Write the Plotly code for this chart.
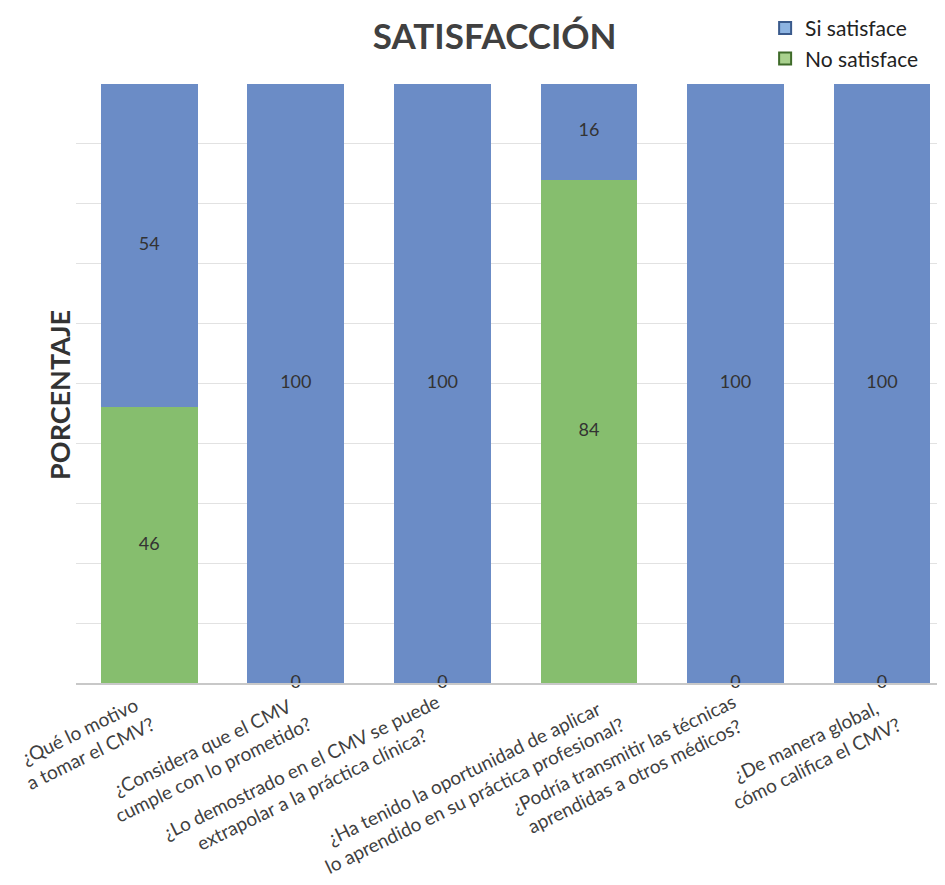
import plotly.graph_objects as go

categories = [
    "¿Qué lo motivo<br>a tomar el CMV?",
    "¿Considera que el CMV<br>cumple con lo prometido?",
    "¿Lo demostrado en el CMV se puede<br>extrapolar a la práctica clínica?",
    "¿Ha tenido la oportunidad de aplicar<br>lo aprendido en su práctica profesional?",
    "¿Podría transmitir las técnicas<br>aprendidas a otros médicos?",
    "¿De manera global,<br>cómo califica el CMV?",
]
no_satisface = [46, 0, 0, 84, 0, 0]
si_satisface = [54, 100, 100, 16, 100, 100]

BLUE = "#6B8CC6"
GREEN = "#86BE6E"
FONT = "Lato"
TXT = "#333333"

# horizontal nudge of each rotated category label (layout only)
label_dx = [11, 22, 14, 42, 17, 25]

x = list(range(len(categories)))

fig = go.Figure()
fig.add_trace(go.Bar(x=x, y=no_satisface, marker=dict(color=GREEN, line=dict(width=0)),
                     showlegend=False, hoverinfo="skip"))
fig.add_trace(go.Bar(x=x, y=si_satisface, marker=dict(color=BLUE, line=dict(width=0)),
                     showlegend=False, hoverinfo="skip"))

# data labels centred in each segment (Excel-style, zeros sit on the axis)
fig.add_trace(go.Scatter(x=x, y=[v / 2 for v in no_satisface], mode="text",
                         text=[str(v) for v in no_satisface], textposition="middle center",
                         textfont=dict(family=FONT, size=18, color=TXT),
                         showlegend=False, cliponaxis=False, hoverinfo="skip"))
fig.add_trace(go.Scatter(x=x, y=[n + s / 2 for n, s in zip(no_satisface, si_satisface)], mode="text",
                         text=[str(v) for v in si_satisface], textposition="middle center",
                         textfont=dict(family=FONT, size=18, color=TXT),
                         showlegend=False, cliponaxis=False, hoverinfo="skip"))

# legend entries
fig.add_trace(go.Scatter(x=[None], y=[None], mode="markers", name="Si satisface",
                         marker=dict(symbol="square", size=20, color="#8DB4E2",
                                     line=dict(color="#3A5A8C", width=1.5))))
fig.add_trace(go.Scatter(x=[None], y=[None], mode="markers", name="No satisface",
                         marker=dict(symbol="square", size=20, color="#A9D18E",
                                     line=dict(color="#3F6B2A", width=1.5))))

# rotated, centre-aligned category labels
annotations = []
for i, lab in enumerate(categories):
    annotations.append(dict(
        x=i, y=0, xref="x", yref="y", text=lab, showarrow=False,
        textangle=-26, align="center", xanchor="right", yanchor="top",
        xshift=label_dx[i], yshift=-4,
        font=dict(family=FONT, size=19, color="#404040"),
    ))
# y-axis title (sits slightly below the middle of the plot, as in the reference)
annotations.append(dict(
    x=-0.0184, y=0.481, xref="paper", yref="paper", text="<b>PORCENTAJE</b>",
    showarrow=False, textangle=-90, xanchor="center", yanchor="middle",
    font=dict(family=FONT, size=27, color="#333333"),
))

fig.update_layout(
    width=945, height=885,
    barmode="stack", bargap=0.34,
    plot_bgcolor="white", paper_bgcolor="white",
    margin=dict(l=68, r=8, t=76, b=210, autoexpand=False),
    font=dict(family=FONT, color=TXT),
    title=dict(text="<b>SATISFACCIÓN</b>", x=0.515, xanchor="center", y=0.968, yanchor="middle",
               font=dict(family=FONT, size=35, color="#404040")),
    legend=dict(x=0.793, y=1.127, xanchor="left", yanchor="top", traceorder="normal",
                font=dict(family=FONT, size=21, color="#222222"),
                tracegroupgap=0, itemsizing="constant", bgcolor="rgba(0,0,0,0)"),
    showlegend=True,
    annotations=annotations,
)
fig.update_xaxes(tickvals=x, showticklabels=False,
                 range=[-0.5, 5.43], showgrid=False, zeroline=False,
                 showline=True, linecolor="#C8C8C8", linewidth=1.5, ticks="")
fig.update_yaxes(range=[0, 100], dtick=10, showgrid=True, gridcolor="#E2E2E2", gridwidth=1,
                 showticklabels=False, zeroline=False)

fig.write_html("out.html")
